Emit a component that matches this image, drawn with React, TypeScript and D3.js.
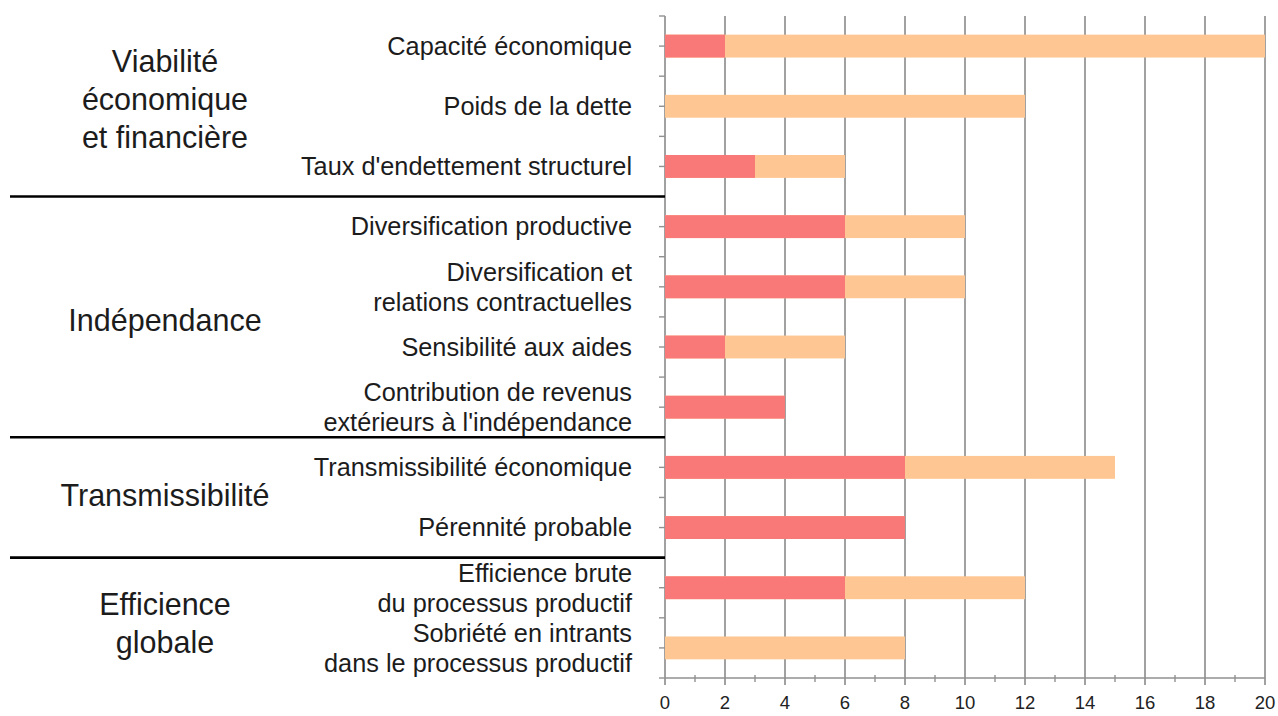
import * as d3 from 'd3'

// rows of the chart (multi-line labels split on '\n')
const categories = [
  'Capacité économique',
  'Poids de la dette',
  "Taux d'endettement structurel",
  'Diversification productive',
  'Diversification et\nrelations contractuelles',
  'Sensibilité aux aides',
  "Contribution de revenus\nextérieurs à l'indépendance",
  'Transmissibilité économique',
  'Pérennité probable',
  'Efficience brute\ndu processus productif',
  'Sobriété en intrants\ndans le processus productif',
]

// obtained score (red) and maximum possible (orange total)
const scores = [2, 0, 3, 6, 6, 2, 4, 8, 8, 6, 0]
const maxima = [20, 12, 6, 10, 10, 6, 4, 15, 8, 12, 8]

// groups of rows
const groupNames = [
  'Viabilité\néconomique\net financière',
  'Indépendance',
  'Transmissibilité',
  'Efficience\nglobale',
]
const groupSizes = [3, 4, 2, 2]
const groupNudge = [-7, 3, -2, 6]

const xTicks = [0, 2, 4, 6, 8, 10, 12, 14, 16, 18, 20]

const W = 1278
const H = 716
const left = 665
const right = 1265
const top = 16
const bottom = 678

const RED = '#f97878'
const ORANGE = '#fec692'
const GRID = '#919191'
const FONT = '"Liberation Sans", Arial, sans-serif'

export default function App() {
  const x = d3.scaleLinear().domain([0, 20]).range([left, right])
  const y = d3.scaleBand<string>()
    .domain(categories)
    .range([top, bottom])
    .paddingInner(0.62)
    .paddingOuter(0.31)
  const rowPos = d3.scaleLinear().domain([0, categories.length]).range([top, bottom])

  const cum = d3.cumsum(groupSizes)
  const boundaries = Array.from(cum).slice(0, -1)
  const minor = d3.range(1, 20, 2)
  const halfTicks = d3.range(0, categories.length * 2 + 1)

  return (
    <div style={{ position: 'fixed', left: 0, top: 0 }}>
      <svg width={W} height={H} style={{ display: 'block', background: '#fff' }} fontFamily={FONT}>
        {/* vertical grid lines */}
        {xTicks.map(t => (
          <line key={'g' + t} x1={x(t)} x2={x(t)} y1={top} y2={bottom + 7}
            stroke={GRID} strokeWidth={1.7} />
        ))}
        {/* bottom axis */}
        <line x1={left} x2={right} y1={bottom} y2={bottom} stroke={GRID} strokeWidth={1.7} />
        {minor.map(t => (
          <line key={'m' + t} x1={x(t)} x2={x(t)} y1={bottom - 3} y2={bottom + 4}
            stroke={GRID} strokeWidth={1.4} />
        ))}
        {xTicks.map(t => (
          <text key={'t' + t} x={x(t)} y={bottom + 31} textAnchor="middle"
            fontSize={18.5} fill="#222">{t}</text>
        ))}
        {/* left axis ticks */}
        {halfTicks.map(i => (
          <line key={'yt' + i} x1={left - 6} x2={left} y1={rowPos(i / 2)} y2={rowPos(i / 2)}
            stroke={GRID} strokeWidth={1.4} />
        ))}

        {/* bars */}
        {categories.map((c, i) => (
          <g key={'b' + i}>
            <rect x={x(0)} y={y(c)} width={x(maxima[i]) - x(0)} height={y.bandwidth()} fill={ORANGE} />
            {scores[i] > 0 && (
              <rect x={x(0)} y={y(c)} width={x(scores[i]) - x(0)} height={y.bandwidth()} fill={RED} />
            )}
          </g>
        ))}

        {/* row labels */}
        {categories.map((c, i) => {
          const lines = c.split('\n')
          const cy = (y(c) ?? 0) + y.bandwidth() / 2
          return (
            <text key={'l' + i} x={632} textAnchor="end" fontSize={25.3} fill="#1c1c1c">
              {lines.map((ln, j) => (
                <tspan key={j} x={632} y={cy + (j - (lines.length - 1) / 2) * 30} dy="0.35em">{ln}</tspan>
              ))}
            </text>
          )
        })}

        {/* group separators */}
        {boundaries.map(b => (
          <line key={'s' + b} x1={10} x2={left} y1={rowPos(b)} y2={rowPos(b)}
            stroke="#000" strokeWidth={2.6} />
        ))}

        {/* group labels */}
        {groupNames.map((g, i) => {
          const lines = g.split('\n')
          const start = i === 0 ? 0 : cum[i - 1]
          const cy = (rowPos(start) + rowPos(cum[i])) / 2 + groupNudge[i]
          return (
            <text key={'gl' + i} x={165} textAnchor="middle" fontSize={30.5} fill="#1c1c1c">
              {lines.map((ln, j) => (
                <tspan key={j} x={165} y={cy + (j - (lines.length - 1) / 2) * 38} dy="0.35em">{ln}</tspan>
              ))}
            </text>
          )
        })}
      </svg>
    </div>
  )
}
